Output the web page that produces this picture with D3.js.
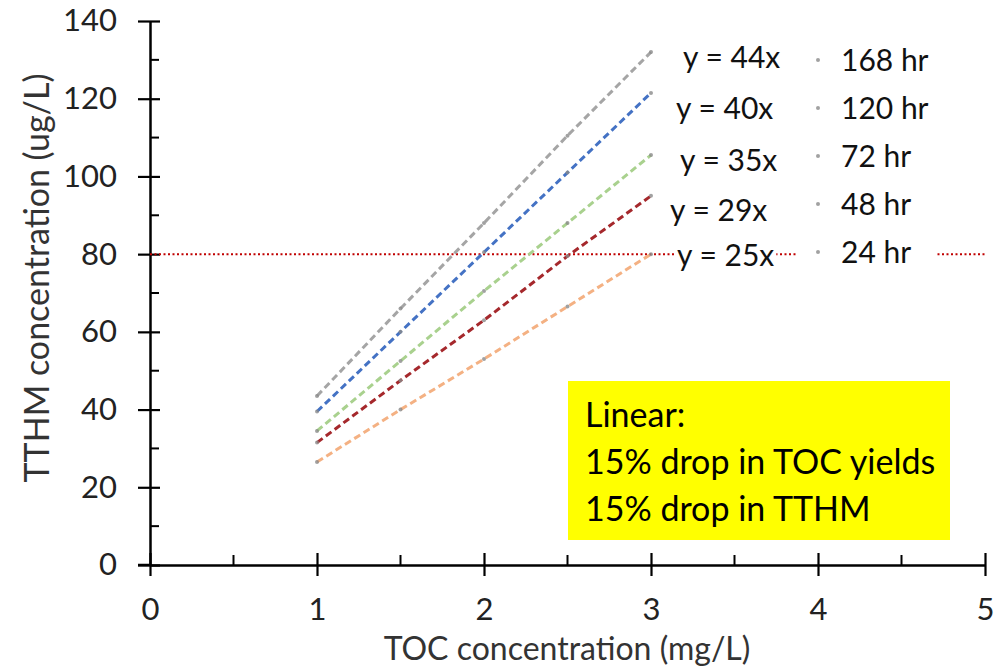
<!DOCTYPE html>
<html>
<head>
<meta charset="utf-8">
<script src="https://cdn.jsdelivr.net/npm/d3@7"></script>
<style>
  html, body { margin: 0; padding: 0; background: #fff; }
  svg { display: block; font-family: Lato, "Open Sans", "Liberation Sans", sans-serif; }
</style>
</head>
<body>
<svg id="chart" width="997" height="667"></svg>
<script>
// TOC concentration (mg/L) at which TTHM was measured
const tocLevels = [1, 1.5, 2, 2.5, 3];

// Reaction times and their colours
const seriesNames = ["168 hr", "120 hr", "72 hr", "48 hr", "24 hr"];
const seriesColors = ["#a5a5a5", "#4472c4", "#a9d18e", "#a5282c", "#f4b183"];

// Measured TTHM (ug/L) per reaction time
const tthm168 = [43.5, 66, 88, 110.5, 132];
const tthm120 = [39.5, 60, 80.5, 101, 121.5];
const tthm72  = [34.5, 52.5, 70.5, 88, 105.5];
const tthm48  = [31.5, 47.5, 63, 79.5, 95];
const tthm24  = [26.5, 40, 53, 66.5, 80];

// Linear trend equation slopes shown beside each series
const slopes = [44, 40, 35, 29, 25];

// Regulatory limit (ug/L)
const mclValue = 80;

const xTicks = [0, 1, 2, 3, 4, 5];
const yTicks = [0, 20, 40, 60, 80, 100, 120, 140];

const seriesValues = [tthm168, tthm120, tthm72, tthm48, tthm24];

const svg = d3.select("#chart");
const plotLeft = 150, plotRight = 985, plotTop = 21, plotBottom = 565;

const x = d3.scaleLinear().domain([0, 5]).range([plotLeft, plotRight]);
const y = d3.scaleLinear().domain([0, 140]).range([plotBottom, plotTop]);

const axisColor = "#000";
const tickFont = 31;

// Minor ticks
const gMinor = svg.append("g");
d3.range(10, 140, 20).forEach(v => {
  gMinor.append("line").attr("x1", plotLeft).attr("x2", plotLeft + 9)
    .attr("y1", y(v)).attr("y2", y(v)).attr("stroke", axisColor).attr("stroke-width", 2);
});
d3.range(0.5, 5, 1).forEach(v => {
  gMinor.append("line").attr("x1", x(v)).attr("x2", x(v))
    .attr("y1", plotBottom).attr("y2", plotBottom - 10).attr("stroke", axisColor).attr("stroke-width", 2);
});

// Y axis
const yAxis = d3.axisLeft(y).tickValues(yTicks).tickSize(0).tickPadding(33).tickFormat(d3.format("d"));
const gy = svg.append("g").attr("transform", `translate(${plotLeft},0)`).call(yAxis);
gy.select(".domain").attr("stroke", axisColor).attr("stroke-width", 2.5);
gy.selectAll(".tick text").attr("font-size", tickFont).attr("fill", "#222")
  .attr("font-family", "Lato, 'Open Sans', sans-serif");
gy.selectAll(".tick").append("line").attr("x1", -12).attr("x2", 10)
  .attr("stroke", axisColor).attr("stroke-width", 2.2);

// X axis
const xAxis = d3.axisBottom(x).tickValues(xTicks).tickSize(0).tickPadding(33).tickFormat(d3.format("d"));
const gx = svg.append("g").attr("transform", `translate(0,${plotBottom})`).call(xAxis);
gx.select(".domain").attr("stroke", axisColor).attr("stroke-width", 2.5);
gx.selectAll(".tick text").attr("font-size", tickFont).attr("fill", "#222")
  .attr("font-family", "Lato, 'Open Sans', sans-serif");
gx.selectAll(".tick").append("line").attr("y1", -12).attr("y2", 11)
  .attr("stroke", axisColor).attr("stroke-width", 2.2);
svg.append("line").attr("x1", plotLeft - 12).attr("x2", plotLeft)
  .attr("y1", plotBottom).attr("y2", plotBottom).attr("stroke", axisColor).attr("stroke-width", 2.5);

// Axis titles
svg.append("text").attr("x", 567).attr("y", 660).attr("text-anchor", "middle")
  .attr("font-size", 32).attr("fill", "#333").text("TOC concentration (mg/L)");
svg.append("text").attr("transform", `translate(49,278) rotate(-90)`)
  .attr("text-anchor", "middle").attr("font-size", 34).attr("fill", "#333")
  .text("TTHM concentration (ug/L)");

// 80 ug/L limit line
svg.append("line").attr("x1", plotLeft).attr("x2", plotRight)
  .attr("y1", y(mclValue)).attr("y2", y(mclValue))
  .attr("stroke", "#c00000").attr("stroke-width", 2).attr("stroke-dasharray", "2,2.5");

// Dashed series lines
const line = d3.line().x((d, j) => x(tocLevels[j])).y(d => y(d));
seriesValues.forEach((vals, i) => {
  svg.append("path").attr("d", line(vals)).attr("fill", "none")
    .attr("stroke", seriesColors[i]).attr("stroke-width", 3)
    .attr("stroke-dasharray", "7,4");
});

// Measured points
seriesValues.forEach((vals, i) => {
  svg.append("g").selectAll("circle").data(vals).join("circle")
    .attr("cx", (d, j) => x(tocLevels[j])).attr("cy", d => y(d)).attr("r", 2)
    .attr("fill", "#8a8a8a").attr("opacity", 0.8);
});

// Trend equation labels, each on a white patch
const eqPos = [[683, 57], [676, 108], [680, 160], [670, 210], [677, 255]];
slopes.forEach((k, i) => {
  const t = svg.append("text").attr("x", eqPos[i][0]).attr("y", eqPos[i][1] + 11)
    .attr("font-size", 30).attr("fill", "#111").text(`y = ${k}x`);
  const bb = t.node().getBBox();
  svg.insert("rect", () => t.node()).attr("x", bb.x - 2).attr("y", bb.y + 6)
    .attr("width", bb.width + 4).attr("height", bb.height - 12).attr("fill", "#fff");
});

// Legend
const legend = svg.append("g");
legend.append("rect").attr("x", 797).attr("y", 34).attr("width", 140).attr("height", 240).attr("fill", "#fff");
seriesNames.forEach((name, i) => {
  const cy = 60 + i * 48;
  legend.append("circle").attr("cx", 818).attr("cy", cy).attr("r", 2)
    .attr("fill", "#8a8a8a").attr("opacity", 0.8);
  legend.append("text").attr("x", 841).attr("y", cy + 11).attr("font-size", 30)
    .attr("fill", "#111").text(name);
});

// Highlight note
const note = svg.append("g");
note.append("rect").attr("x", 568).attr("y", 381).attr("width", 382).attr("height", 159).attr("fill", "#ffff00");
["Linear:", "15% drop in TOC yields", "15% drop in TTHM"].forEach((s, i) => {
  note.append("text").attr("x", 585).attr("y", 427 + i * 47).attr("font-size", 34)
    .attr("fill", "#000").text(s);
});
</script>
</body>
</html>
